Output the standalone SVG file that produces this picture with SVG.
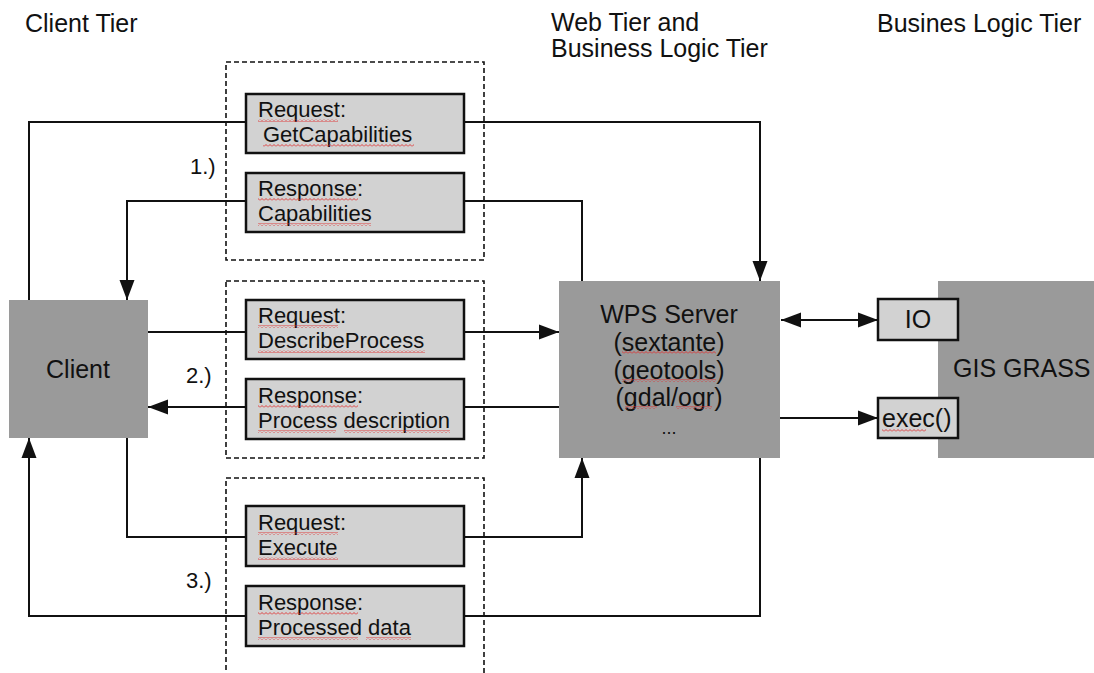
<svg xmlns="http://www.w3.org/2000/svg" width="1094" height="673" viewBox="0 0 1094 673">
<style>
text{font-family:"Liberation Sans",Arial,sans-serif;fill:#111;}
.tier{font-size:25px;}
.node{fill:#9a9a9a;stroke:none;}
.msg{fill:#d2d2d2;stroke:#111;stroke-width:2.5;}
.msgt{font-size:22px;}
.nodet{font-size:25px;}
.dash{fill:none;stroke:#111;stroke-width:1.6;stroke-dasharray:5 3;}
.c{fill:none;stroke:#111;stroke-width:2;}
.sq{fill:url(#squig);}
</style>
<defs>
<marker id="ah" markerUnits="userSpaceOnUse" markerWidth="22" markerHeight="16" refX="20" refY="8" orient="auto-start-reverse">
<path d="M0,0.5 L20,8 L0,15.5 z" fill="#111"/>
</marker>
<pattern id="squig" patternUnits="userSpaceOnUse" width="4" height="3">
<polyline points="0,2.5 2,0.5 4,2.5" fill="none" stroke="#e03030" stroke-width="0.9"/>
</pattern>
</defs>

<g id="tiers">
<text class="tier" x="25" y="32">Client Tier</text>
<text class="tier" x="551" y="31"><tspan x="551" y="31">Web Tier and</tspan><tspan x="551" y="57">Business Logic Tier</tspan></text>
<text class="tier" x="877" y="32">Busines Logic Tier</text>
</g>

<g id="groups">
<rect class="dash" x="226" y="62" width="258" height="198"/>
<rect class="dash" x="226" y="281" width="258" height="177"/>
<rect class="dash" x="226" y="478" width="258" height="210"/>
<text class="msgt" x="190" y="174">1.)</text>
<text class="msgt" x="186" y="383">2.)</text>
<text class="msgt" x="186" y="588">3.)</text>
</g>

<g id="connectors">
<polyline class="c" points="29,300 29,122 246,122"/>
<polyline class="c" points="464,122 760,122 760,281" marker-end="url(#ah)"/>
<polyline class="c" points="246,201 127,201 127,300" marker-end="url(#ah)"/>
<polyline class="c" points="464,201 582,201 582,281"/>
<polyline class="c" points="148,332 246,332"/>
<polyline class="c" points="464,332 559,332" marker-end="url(#ah)"/>
<polyline class="c" points="559,407 464,407"/>
<polyline class="c" points="246,407 148,407" marker-end="url(#ah)"/>
<polyline class="c" points="127,438 127,537 246,537"/>
<polyline class="c" points="464,537 582,537 582,458" marker-end="url(#ah)"/>
<polyline class="c" points="760,458 760,616 464,616"/>
<polyline class="c" points="246,616 29,616 29,438" marker-end="url(#ah)"/>
<line class="c" x1="781" y1="320" x2="878" y2="320" marker-start="url(#ah)" marker-end="url(#ah)"/>
<line class="c" x1="780" y1="418" x2="878" y2="418" marker-end="url(#ah)"/>
</g>

<g id="client">
<rect class="node" x="9" y="300" width="139" height="138"/>
<text class="nodet" x="78" y="378" text-anchor="middle">Client</text>
</g>

<g id="wps-server">
<rect class="node" x="559" y="281" width="221" height="177"/>
<text class="nodet" x="669" y="323" text-anchor="middle">WPS Server</text>
<text class="nodet" x="669" y="351" text-anchor="middle">(sextante)</text>
<text class="nodet" x="669" y="379" text-anchor="middle">(geotools)</text>
<text class="nodet" x="669" y="406" text-anchor="middle">(gdal/ogr)</text>
<text class="nodet" x="669" y="434" text-anchor="middle" style="font-size:18px">...</text>
<rect class="sq" x="622" y="351" width="94" height="3"/>
<rect class="sq" x="622" y="379" width="94" height="3"/>
<rect class="sq" x="625" y="406" width="32" height="3"/>
<rect class="sq" x="676" y="406" width="36" height="3"/>
</g>

<g id="gis-grass">
<rect class="node" x="938" y="281" width="156" height="177"/>
<text class="nodet" x="953" y="377">GIS GRASS</text>
</g>

<g id="io">
<rect class="msg" x="878" y="299" width="80" height="41"/>
<text class="nodet" x="918" y="328" text-anchor="middle">IO</text>
</g>

<g id="exec">
<rect class="msg" x="878" y="398" width="80" height="40"/>
<text class="nodet" x="882" y="427">exec()</text>
<rect class="sq" x="882" y="429" width="44" height="3"/>
</g>

<g id="req-getcapabilities">
<rect class="msg" x="246" y="94" width="218" height="59"/>
<text class="msgt" x="258" y="117">Request:</text>
<text class="msgt" x="263" y="142">GetCapabilities</text>
<rect class="sq" x="258" y="119" width="80" height="3"/>
<rect class="sq" x="263" y="144" width="151" height="3"/>
</g>

<g id="resp-capabilities">
<rect class="msg" x="246" y="173" width="218" height="59"/>
<text class="msgt" x="258" y="196">Response:</text>
<text class="msgt" x="258" y="221">Capabilities</text>
<rect class="sq" x="258" y="198" width="100" height="3"/>
<rect class="sq" x="258" y="223" width="113" height="3"/>
</g>

<g id="req-describeprocess">
<rect class="msg" x="246" y="300" width="218" height="59"/>
<text class="msgt" x="258" y="323">Request:</text>
<text class="msgt" x="258" y="348">DescribeProcess</text>
<rect class="sq" x="258" y="325" width="80" height="3"/>
<rect class="sq" x="258" y="350" width="167" height="3"/>
</g>

<g id="resp-processdescription">
<rect class="msg" x="246" y="379" width="218" height="60"/>
<text class="msgt" x="258" y="403">Response:</text>
<text class="msgt" x="258" y="428">Process description</text>
<rect class="sq" x="258" y="405" width="100" height="3"/>
<rect class="sq" x="258" y="430" width="78" height="3"/>
<rect class="sq" x="344" y="430" width="106" height="3"/>
</g>

<g id="req-execute">
<rect class="msg" x="246" y="506" width="218" height="60"/>
<text class="msgt" x="258" y="530">Request:</text>
<text class="msgt" x="258" y="555">Execute</text>
<rect class="sq" x="258" y="532" width="80" height="3"/>
<rect class="sq" x="258" y="557" width="80" height="3"/>
</g>

<g id="resp-processeddata">
<rect class="msg" x="246" y="586" width="218" height="60"/>
<text class="msgt" x="258" y="610">Response:</text>
<text class="msgt" x="258" y="635">Processed data</text>
<rect class="sq" x="258" y="612" width="100" height="3"/>
<rect class="sq" x="258" y="637" width="100" height="3"/>
<rect class="sq" x="366" y="637" width="45" height="3"/>
</g>
</svg>
